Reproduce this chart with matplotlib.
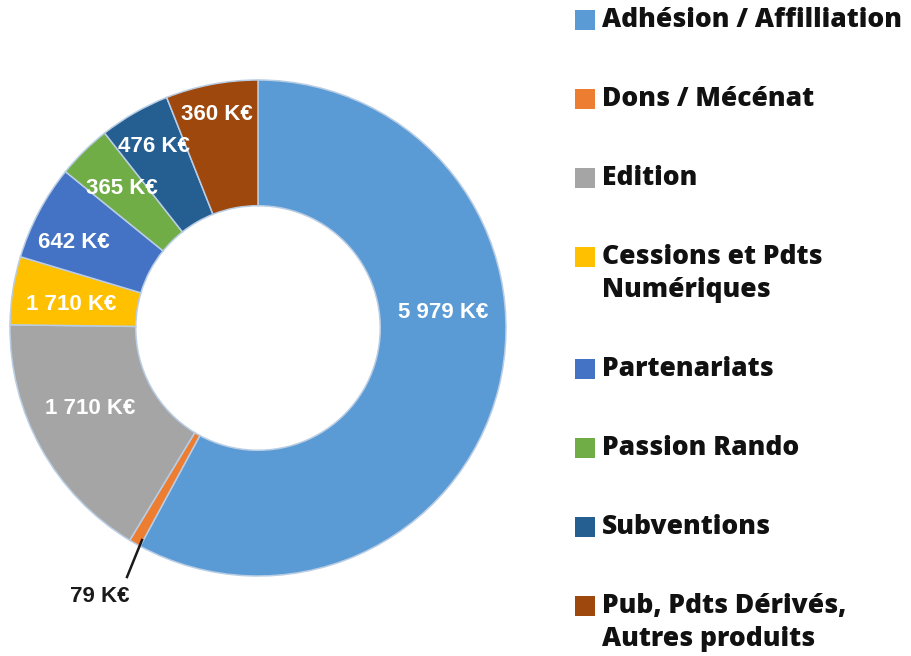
import matplotlib.pyplot as plt
from matplotlib.patches import Rectangle

# === Données ===
categories = ["Adhésion / Affilliation", "Dons / Mécénat", "Edition",
              "Cessions et Pdts\nNumériques", "Partenariats", "Passion Rando",
              "Subventions", "Pub, Pdts Dérivés,\nAutres produits"]
values = [5979, 79, 1710, 458, 642, 365, 476, 620]
# textes affichés sur le graphique
value_labels = ["5 979 K€", "79 K€", "1 710 K€", "1 710 K€", "642 K€",
                "365 K€", "476 K€", "360 K€"]
colors = ["#5B9BD5", "#ED7D31", "#A5A5A5", "#FFC000", "#4472C4",
          "#70AD47", "#255E91", "#9E480E"]

# === Mise en page (pixels) ===
W, H = 912, 656
CX, CY, R = 258, 328, 248
label_px = [(443, 313), (100, 596), (90, 409), (71, 305), (74, 242),
            (122, 188), (154, 146), (217, 115)]

fig = plt.figure(figsize=(W / 100, H / 100), dpi=100)
lim = 1.02
side = 2 * lim * R
ax = fig.add_axes([(CX - lim * R) / W, (H - CY - lim * R) / H, side / W, side / H])

wedges, _ = ax.pie(values, colors=colors, startangle=90, counterclock=False,
                   radius=1.0,
                   wedgeprops=dict(width=0.507, edgecolor="#b9cde4", linewidth=1.1))
ax.set_xlim(-lim, lim)
ax.set_ylim(-lim, lim)
ax.set_aspect("equal")
ax.axis("off")


def to_data(px, py):
    return (px - CX) / R, (CY - py) / R


for i, (lab, (px, py)) in enumerate(zip(value_labels, label_px)):
    x, y = to_data(px, py)
    col = "#1a1a1a" if i == 1 else "white"
    ax.text(x, y, lab, ha="center", va="center", color=col, fontsize=16,
            fontweight="bold", family=["Liberation Sans", "DejaVu Sans"])

# trait de rappel pour 79 K€
x0, y0 = to_data(142, 540)
x1, y1 = to_data(127, 577)
ax.plot([x0, x1], [y0, y1], color="#1a1a1a", lw=1.8)

# === Légende manuelle ===
y = 20
for name, col in zip(categories, colors):
    lines = name.split("\n")
    fig.patches.append(Rectangle((575 / W, 1 - (y + 10) / H), 20 / W, 20 / H,
                                 transform=fig.transFigure, facecolor=col,
                                 edgecolor="none"))
    for k, line in enumerate(lines):
        fig.text(602 / W, 1 - (y + 33 * k) / H, line, ha="left", va="center",
                 fontsize=19, fontweight="heavy", family="Open Sans", color="#111111")
    y += 79 + 33 * (len(lines) - 1)

plt.savefig("out.png", dpi=100)
